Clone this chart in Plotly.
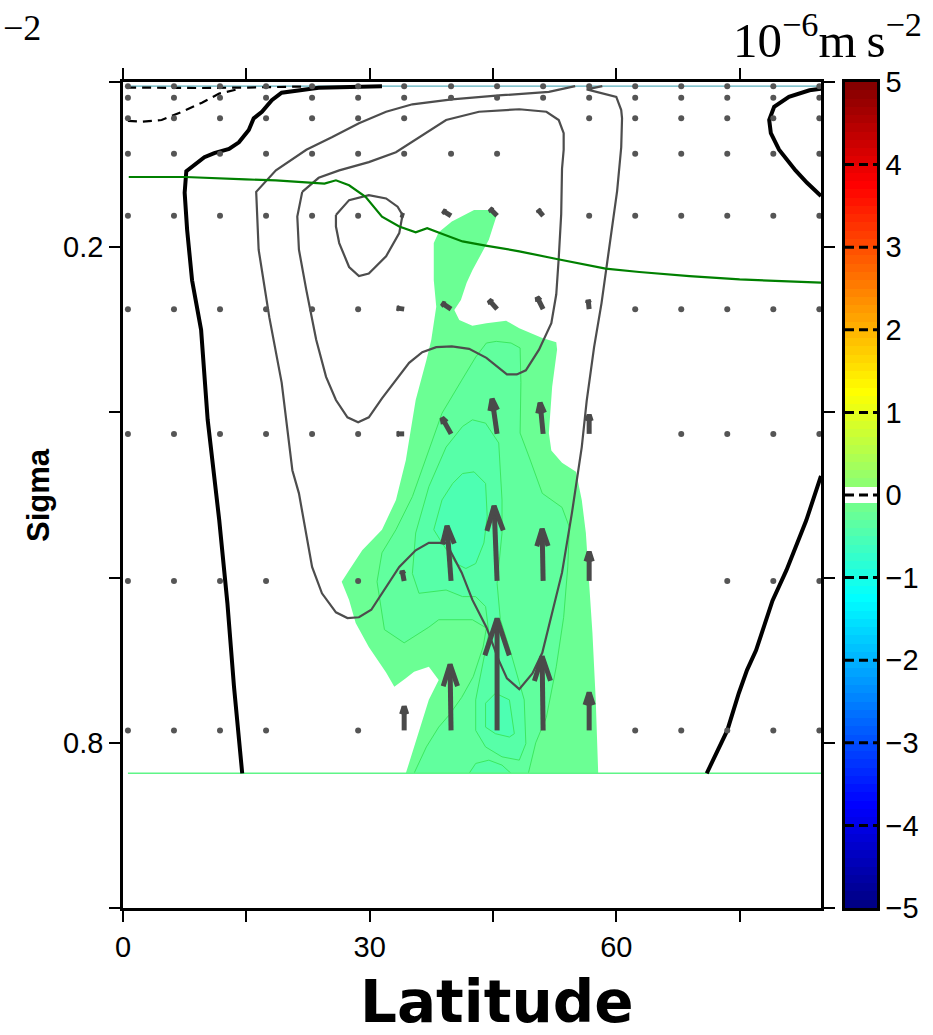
import numpy as np
import plotly.graph_objects as go

# ---------------- grid of the wind vectors ----------------
lat_cols = [0.6, 6.2, 11.8, 17.4, 23.0, 28.6, 34.2, 39.9, 45.5, 51.1,
            56.7, 62.3, 67.9, 73.5, 79.1, 84.7]
sigma_rows = [0.005, 0.019, 0.044, 0.087, 0.162, 0.275, 0.426, 0.604, 0.785]

N = None  # vector too small to draw
# meridional (northward) component, quiver units
quiver_v = [
    [0] * 16,
    [0] * 16,
    [0] * 7 + [N, N, N] + [0] * 6,
    [0] * 9 + [N, N] + [0] * 5,
    [0, 0, 0, 0, 0, 0, -3, -8, -7, -5, 0, 0, 0, 0, 0, 0],
    [0, 0, 0, 0, 0, 0, -7, -9, -8, -6, -1, 0, 0, 0, 0, 0],
    [0, 0, 0, 0, 0, 0, -7, -9, -5, -3, 0, N, 0, 0, 0, 0],
    [0, 0, 0, 0, N, 0, -2, -4, -3, -1, 0, N, N, 0, 0, 0],
    [0, 0, 0, 0, N, 0, 0, -1, 0, -1, 0, 0, 0, 0, 0, 0],
]
# vertical (upward) component, quiver units
quiver_w = [
    [0] * 16,
    [0] * 16,
    [0] * 7 + [N, N, N] + [0] * 6,
    [0] * 9 + [N, N] + [0] * 5,
    [0, 0, 0, 0, 0, 0, 1, 5, 7, 6, 0, 0, 0, 0, 0, 0],
    [0, 0, 0, 0, 0, 0, 1, 6, 9, 12, 9, 0, 0, 0, 0, 0],
    [0, 0, 0, 0, 0, 0, 0, 16, 35, 31, 19, N, 0, 0, 0, 0],
    [0, 0, 0, 0, N, 0, 10, 55, 75, 52, 29, N, N, 0, 0, 0],
    [0, 0, 0, 0, N, 0, 24, 66, 112, 74, 38, 0, 0, 0, 0, 0],
]

# ---------------- streamfunction contours ----------------
zero_left_lat = [31.5, 23.8, 19.3, 18.1, 16.9, 15.9, 15.3, 14.1, 12.9, 11.1, 9.9,
                 7.7, 7.5, 7.8, 8.4, 9.5, 10.3, 11.7, 12.7, 13.5, 14.5]
zero_left_sig = [0.005, 0.007, 0.013, 0.022, 0.036, 0.044, 0.058, 0.073, 0.081,
                 0.086, 0.091, 0.108, 0.134, 0.179, 0.240, 0.300, 0.409, 0.530,
                 0.631, 0.732, 0.837]

zero_topright_lat = [84.9, 83.5, 81.0, 79.2, 78.6, 78.8, 79.8, 81.8, 83.2, 84.9]
zero_topright_sig = [0.008, 0.010, 0.018, 0.030, 0.046, 0.062, 0.082, 0.107, 0.122, 0.138]

zero_botright_lat = [71.0, 73.5, 74.9, 75.9, 77.0, 79.0, 80.7, 83.1, 84.9]
zero_botright_sig = [0.837, 0.785, 0.740, 0.712, 0.688, 0.628, 0.591, 0.531, 0.477]

neg_top_lat = [0.5, 9.2, 15.3, 22.1]
neg_top_sig = [0.0067, 0.0073, 0.0067, 0.0054]
neg_low_lat = [0.6, 2.3, 4.7, 7.2, 9.6, 11.7, 14.1]
neg_low_sig = [0.047, 0.048, 0.046, 0.036, 0.025, 0.014, 0.0085]

pos_outer_lat = [58.3, 56.4, 60.0, 60.6, 60.7, 60.6, 60.1, 59.5, 58.9, 58.2, 57.3,
                 56.4, 55.8, 54.6, 53.4, 52.2, 51.0, 49.8, 48.2, 46.7, 45.7, 44.2,
                 42.5, 41.2, 40.0, 39.3, 37.2, 35.6, 33.6, 32.0, 30.2, 28.7, 27.3,
                 25.9, 24.2, 23.0, 22.0, 21.4, 20.6, 19.8, 19.3, 17.8, 16.5, 16.2,
                 18.6, 22.3, 25.4, 28.7, 32.0, 35.2, 40.0, 46.1, 51.8, 55.0]
pos_outer_sig = [0.005, 0.009, 0.018, 0.034, 0.044, 0.079, 0.132, 0.175, 0.224,
                 0.268, 0.321, 0.386, 0.442, 0.522, 0.594, 0.643, 0.691, 0.716,
                 0.735, 0.722, 0.700, 0.660, 0.627, 0.594, 0.570, 0.558, 0.558,
                 0.567, 0.587, 0.611, 0.639, 0.648, 0.649, 0.642, 0.619, 0.587,
                 0.534, 0.498, 0.470, 0.409, 0.364, 0.285, 0.203, 0.133, 0.107,
                 0.082, 0.067, 0.050, 0.036, 0.027, 0.021, 0.016, 0.012, 0.005]

pos_mid_lat = [21.8, 23.8, 26.3, 29.9, 33.2, 36.0, 39.3, 43.3, 48.2, 51.5, 53.0,
               53.6, 53.6, 53.4, 53.3, 53.0, 52.7, 52.1, 50.6, 49.0, 47.9, 46.7,
               45.7, 44.2, 42.1, 40.0, 38.1, 36.4, 34.8, 33.2, 31.5, 29.9, 28.6,
               27.3, 25.9, 24.7, 23.5, 22.3, 21.4, 21.2, 21.8]
pos_mid_sig = [0.133, 0.116, 0.107, 0.097, 0.085, 0.067, 0.046, 0.036, 0.033,
               0.036, 0.046, 0.062, 0.082, 0.105, 0.160, 0.213, 0.257, 0.292,
               0.324, 0.349, 0.354, 0.354, 0.346, 0.334, 0.323, 0.320, 0.321,
               0.327, 0.340, 0.361, 0.383, 0.406, 0.412, 0.406, 0.385, 0.357,
               0.312, 0.252, 0.203, 0.163, 0.133]

pos_inner_lat = [25.9, 27.5, 29.9, 32.0, 33.4, 34.0, 33.6, 32.0, 29.9, 28.7, 27.5,
                 26.3, 25.9, 25.9]
pos_inner_sig = [0.161, 0.143, 0.137, 0.141, 0.151, 0.161, 0.183, 0.211, 0.232,
                 0.235, 0.224, 0.195, 0.175, 0.161]

# ---------------- tropopause ----------------
trop_lat = [0.7, 7.6, 14.9, 18.6, 24.5, 25.9, 27.5, 29.5, 31.5, 33.6, 35.6, 37.0,
            39.1, 41.3, 44.1, 48.2, 52.6, 55.5, 58.7, 62.8, 68.9, 75.0, 84.9]
trop_sig = [0.115, 0.115, 0.118, 0.119, 0.123, 0.119, 0.125, 0.139, 0.163, 0.175,
            0.182, 0.177, 0.185, 0.193, 0.198, 0.205, 0.214, 0.220, 0.226, 0.230,
            0.235, 0.239, 0.243]

# ---------------- shaded acceleration (10^-6 m s^-2) ----------------
shade_levels = [-0.2, -0.3, -0.4, -0.5, -0.5, -0.4]

shade0_lat = [37.8, 38.4, 40.0, 42.7, 44.8, 45.4, 44.5, 43.6, 42.5, 41.8, 41.1, 40.3,
              40.9, 42.5, 44.2, 46.6, 48.2, 51.0, 52.7, 52.8, 52.2, 51.8, 52.1, 53.4,
              55.1, 55.8, 56.3, 56.7, 57.1, 57.5, 57.8, 34.4, 36.0, 37.2, 38.4, 37.2,
              35.4, 34.4, 33.0, 32.0, 29.9, 28.3, 27.5, 26.6, 27.5, 29.1, 31.5, 33.2,
              34.4, 35.6, 36.9, 37.5, 38.1, 37.8]
shade0_sig = [0.195, 0.182, 0.169, 0.155, 0.155, 0.163, 0.191, 0.207, 0.228, 0.243,
              0.264, 0.276, 0.288, 0.295, 0.292, 0.289, 0.298, 0.310, 0.315, 0.324,
              0.369, 0.425, 0.446, 0.461, 0.472, 0.506, 0.546, 0.607, 0.667, 0.748,
              0.837, 0.837, 0.785, 0.748, 0.724, 0.708, 0.714, 0.722, 0.732, 0.715,
              0.684, 0.655, 0.627, 0.605, 0.591, 0.567, 0.542, 0.506, 0.458, 0.385,
              0.337, 0.312, 0.272, 0.240]

shade1_lat = [44.2, 45.4, 47.2, 48.3, 48.4, 48.3, 49.4, 51.0, 53.4, 54.3, 54.1, 53.6,
              52.7, 51.5, 50.2, 49.3, 35.4, 36.9, 38.4, 39.7, 41.2, 42.6, 43.8, 44.2,
              42.5, 38.4, 37.2, 34.2, 31.8, 30.9, 31.5, 33.2, 35.2, 36.9, 38.8, 41.2,
              42.9]
shade1_sig = [0.316, 0.314, 0.316, 0.322, 0.364, 0.425, 0.454, 0.498, 0.515, 0.539,
              0.587, 0.648, 0.708, 0.769, 0.800, 0.837, 0.837, 0.805, 0.781, 0.766,
              0.745, 0.720, 0.684, 0.661, 0.651, 0.651, 0.660, 0.679, 0.663, 0.605,
              0.570, 0.542, 0.502, 0.454, 0.401, 0.361, 0.333]

shade2_lat = [42.5, 44.1, 45.7, 46.1, 46.1, 45.5, 45.9, 47.2, 48.8, 49.0, 48.2, 46.1,
              44.1, 42.9, 42.9, 43.7, 44.5, 44.1, 42.9, 41.3, 39.3, 36.0, 35.2, 35.6,
              37.2, 39.3, 41.3]
shade2_sig = [0.409, 0.413, 0.437, 0.506, 0.546, 0.607, 0.651, 0.692, 0.748, 0.801,
              0.821, 0.817, 0.805, 0.785, 0.748, 0.708, 0.667, 0.635, 0.623, 0.623,
              0.615, 0.619, 0.595, 0.546, 0.490, 0.442, 0.417]

shade3_lat = [41.3, 42.7, 44.1, 44.3, 43.9, 42.9, 41.7, 40.5, 38.8, 37.8, 38.8, 40.1]
shade3_sig = [0.474, 0.472, 0.486, 0.526, 0.558, 0.583, 0.589, 0.583, 0.558, 0.542,
              0.506, 0.486]

shade3b_lat = [44.1, 45.3, 47.0, 47.6, 47.0, 45.3, 44.1]
shade3b_sig = [0.752, 0.740, 0.748, 0.789, 0.793, 0.789, 0.781]

shade2b_lat = [42.1, 42.9, 44.5, 46.1, 47.2]
shade2b_sig = [0.837, 0.825, 0.821, 0.827, 0.837]

sigma_top, sigma_bottom = 0.005, 0.837   # extent of the model data

cbar_ticks = [-5, -4, -3, -2, -1, 0, 1, 2, 3, 4, 5]

# ---------------- layout geometry ----------------
FIG_W, FIG_H = 933, 1035
M_L, M_R, M_T, M_B = 123, 56, 82, 127
PLOT_W = FIG_W - M_L - M_R        # 754
PLOT_H = FIG_H - M_T - M_B        # 826
MAIN_W = 698
CB_X0, CB_X1 = 722, 754
LAT_MAX = 84.9
PX_PER_DEG = MAIN_W / LAT_MAX
PX_PER_SIG = PLOT_H / 1.0
QUIVER_PX = 1.0                    # pixels per quiver unit


def jet(v, vmin=-5.0, vmax=5.0):
    x = (v - vmin) / (vmax - vmin)
    r = np.clip(1.5 - abs(4 * x - 3), 0, 1)
    g = np.clip(1.5 - abs(4 * x - 2), 0, 1)
    b = np.clip(1.5 - abs(4 * x - 1), 0, 1)
    return "rgb(%d,%d,%d)" % (round(r * 255), round(g * 255), round(b * 255))


fig = go.Figure()

# shaded regions
shades = [(shade0_lat, shade0_sig, 0), (shade1_lat, shade1_sig, 1),
          (shade2_lat, shade2_sig, 2), (shade2b_lat, shade2b_sig, 5),
          (shade3_lat, shade3_sig, 3), (shade3b_lat, shade3b_sig, 4)]
for la, sg, k in shades:
    col = jet(shade_levels[k])
    edge = dict(width=0, color=col) if k == 0 else dict(width=1, color="rgb(60,232,95)")
    fig.add_trace(go.Scatter(x=la + [la[0]], y=sg + [sg[0]], mode="lines", fill="toself",
                             fillcolor=col, line=edge, hoverinfo="skip"))

# data boundaries
fig.add_trace(go.Scatter(x=[0.6, LAT_MAX], y=[sigma_bottom, sigma_bottom], mode="lines",
                         line=dict(color="rgb(95,245,135)", width=1.5), hoverinfo="skip"))
fig.add_trace(go.Scatter(x=[0.6, LAT_MAX], y=[sigma_top, sigma_top], mode="lines",
                         line=dict(color="rgb(90,175,190)", width=1.2), hoverinfo="skip"))


def path(la, sg, color, width, dash=None):
    fig.add_trace(go.Scatter(x=la, y=sg, mode="lines",
                             line=dict(color=color, width=width, dash=dash),
                             hoverinfo="skip"))


# positive streamfunction
path(pos_outer_lat, pos_outer_sig, "#4d4d4d", 2.2)
path(pos_mid_lat, pos_mid_sig, "#4d4d4d", 2.2)
path(pos_inner_lat, pos_inner_sig, "#4d4d4d", 2.2)
# zero line
path(zero_left_lat, zero_left_sig, "black", 4)
path(zero_topright_lat, zero_topright_sig, "black", 4)
path(zero_botright_lat, zero_botright_sig, "black", 4)
# negative streamfunction
path(neg_top_lat, neg_top_sig, "black", 2.2, "9px,6px")
path(neg_low_lat, neg_low_sig, "black", 2.2, "9px,6px")
# tropopause
path(trop_lat, trop_sig, "rgb(0,128,0)", 2.2)

# wind vectors (quiver-style arrows)
ALPHA, BETA = 0.33, 0.33
dot_x, dot_y = [], []
arr_x, arr_y = [], []
for j, s in enumerate(sigma_rows):
    for i, la in enumerate(lat_cols):
        v, w = quiver_v[j][i], quiver_w[j][i]
        if v is None or w is None:
            continue
        dx, dy = v * QUIVER_PX, -w * QUIVER_PX
        if np.hypot(dx, dy) < 2:
            dot_x.append(la)
            dot_y.append(s)
            continue
        b1x = dx - ALPHA * (dx + BETA * dy)
        b1y = dy - ALPHA * (dy - BETA * dx)
        b2x = dx - ALPHA * (dx - BETA * dy)
        b2y = dy - ALPHA * (dy + BETA * dx)
        pts = [(0, 0), (dx, dy), None, (b1x, b1y), (dx, dy), (b2x, b2y), None]
        for p in pts:
            if p is None:
                arr_x.append(None)
                arr_y.append(None)
            else:
                arr_x.append(la + p[0] / PX_PER_DEG)
                arr_y.append(s + p[1] / PX_PER_SIG)

fig.add_trace(go.Scatter(x=dot_x, y=dot_y, mode="markers",
                         marker=dict(size=6, color="#555555"), hoverinfo="skip"))
fig.add_trace(go.Scatter(x=arr_x, y=arr_y, mode="lines",
                         line=dict(color="#4a4a4a", width=5), hoverinfo="skip"))

# colour bar
cb_centers = [round(-4.95 + 0.1 * k, 2) for k in range(100)]
cb_colors = ["rgb(255,255,255)" if abs(c) < 0.1 else jet(c) for c in cb_centers]
n = len(cb_centers)
cscale = []
for k, c in enumerate(cb_colors):
    cscale.append([k / n, c])
    cscale.append([(k + 1) / n, c])
fig.add_trace(go.Heatmap(x=[0.5], y=cb_centers, z=[[k + 0.5] for k in range(n)],
                         zmin=0, zmax=n, colorscale=cscale, showscale=False,
                         xaxis="x2", yaxis="y2", hoverinfo="skip"))
for t in cbar_ticks[1:-1]:
    fig.add_shape(type="line", xref="x2", yref="y2", x0=0, x1=1, y0=t, y1=t,
                  line=dict(color="black", width=3, dash="9px,5px"))

tickfont = dict(family="Liberation Sans, Arial, sans-serif", size=29, color="black")
axis_common = dict(showline=True, linecolor="black", linewidth=2.5, mirror="ticks",
                   ticks="outside", ticklen=11, tickwidth=2, tickcolor="black",
                   showgrid=False, zeroline=False, tickfont=tickfont)

fig.update_layout(
    width=FIG_W, height=FIG_H,
    margin=dict(l=M_L, r=M_R, t=M_T, b=M_B),
    paper_bgcolor="white", plot_bgcolor="white",
    showlegend=False, hovermode=False,
    xaxis=dict(domain=[0, MAIN_W / PLOT_W], range=[0, LAT_MAX],
               tickvals=[0, 15, 30, 45, 60, 75], ticktext=["0", "", "30", "", "60", ""],
               anchor="y", **axis_common),
    yaxis=dict(domain=[0, 1], range=[1, 0],
               tickvals=[0, 0.2, 0.4, 0.6, 0.8, 1.0],
               ticktext=["", "0.2", "", "", "0.8", ""], anchor="x", **axis_common),
    xaxis2=dict(domain=[CB_X0 / PLOT_W, CB_X1 / PLOT_W], range=[0, 1], anchor="y2",
                showline=True, linecolor="black", linewidth=2.5, mirror=True,
                showticklabels=False, ticks="", showgrid=False, zeroline=False),
    yaxis2=dict(domain=[0, 1], range=[-5, 5], anchor="x2", side="right",
                tickvals=cbar_ticks, ticktext=[("\u2212%d" % -t) if t < 0 else str(t) for t in cbar_ticks],
                showline=True, linecolor="black", linewidth=2.5, mirror=True,
                ticks="", showgrid=False, zeroline=False, tickfont=tickfont),
)

fig.add_annotation(text="<b>Sigma</b>", xref="paper", yref="paper", x=0, y=0.5,
                   xanchor="center", xshift=-85, textangle=-90, showarrow=False,
                   font=dict(family="Liberation Sans, Arial, sans-serif", size=31, color="black"))
fig.add_annotation(text="<b>Latitude</b>", xref="paper", yref="paper",
                   x=(497 - M_L) / PLOT_W, y=0, yanchor="top", yshift=-58, showarrow=False,
                   font=dict(family="DejaVu Sans", size=58, color="black"))
fig.add_annotation(text="10<sup>\u22126</sup>m\u2009s<sup>\u22122</sup>", xref="paper", yref="paper",
                   x=1, y=1, xanchor="right", yanchor="bottom", xshift=47, yshift=12,
                   showarrow=False,
                   font=dict(family="Liberation Serif, DejaVu Serif, serif", size=49, color="black"))
fig.add_annotation(text="\u22122", xref="paper", yref="paper", x=0, y=1,
                   xanchor="left", yanchor="top", xshift=-M_L + 1, yshift=76, showarrow=False,
                   font=dict(family="Liberation Serif, DejaVu Serif, serif", size=36, color="black"))

fig.write_html("out.html")
